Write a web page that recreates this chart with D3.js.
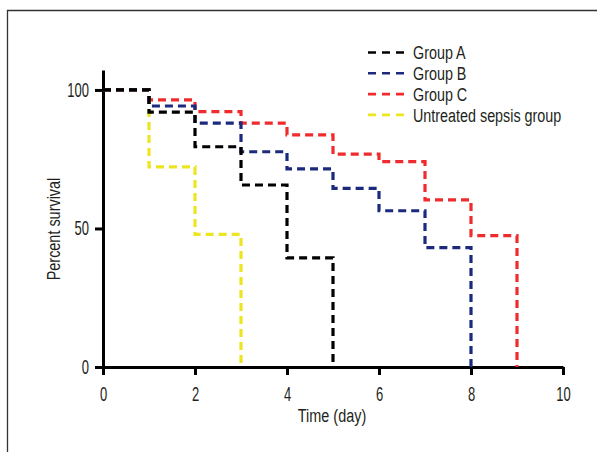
<!DOCTYPE html>
<html>
<head>
<meta charset="utf-8">
<script src="https://cdn.jsdelivr.net/npm/d3@7"></script>
<style>
  body { margin: 0; background: #fff; }
  svg text { font-family: "Liberation Sans", Arial, sans-serif; fill: #231f20; }
</style>
</head>
<body>
<svg id="chart" width="597" height="452"></svg>
<script>
// ===========
// DATA
// ===========
const xTicks = [0, 2, 4, 6, 8, 10];
const yTicks = [0, 50, 100];
const groupNames = ["Group A", "Group B", "Group C", "Untreated sepsis group"];
const groupColors = ["#000000", "#1c2a7e", "#ef2b2d", "#ede51f"];

// day at which each survival value starts
const daysA = [0, 1, 2, 3, 4, 5];
const survA = [100, 92, 79.5, 65.7, 39.4, 0];
const daysB = [0, 1, 2, 3, 4, 5, 6, 7, 8];
const survB = [100, 94.2, 88, 77.7, 71.5, 64.5, 56.4, 43.1, 0];
const daysC = [0, 1, 2, 3, 4, 5, 6, 7, 8, 9];
const survC = [100, 96.4, 92.2, 88, 83.8, 76.8, 74.1, 60.3, 47.4, 0];
const daysU = [0, 1, 2, 3];
const survU = [100, 72.2, 47.9, 0];

const svg = d3.select("#chart");

// narrow text horizontally (the original uses a condensed face)
function condense(sel, f) {
  sel.each(function() {
    const t = d3.select(this);
    const x0 = +t.attr("x") || 0;
    t.attr("x", x0 / f).attr("transform", "scale(" + f + ",1)");
  });
}

// frame around the figure
svg.append("path")
  .attr("d", "M7.5,452V10.5H597")
  .attr("fill", "none")
  .attr("stroke", "#333")
  .attr("stroke-width", 1.3);

// ============
// SCALES + AXES
// ============
const x = d3.scaleLinear().domain([0, 10]).range([103, 563]);
const y = d3.scaleLinear().domain([0, 107.2]).range([367, 70]);

const xAxis = svg.append("g")
  .attr("transform", "translate(0," + y(0) + ")")
  .call(d3.axisBottom(x).tickValues(xTicks).tickSize(8).tickSizeOuter(0).tickPadding(12));

const yAxis = svg.append("g")
  .attr("transform", "translate(" + x(0) + ",0)")
  .call(d3.axisLeft(y).tickValues(yTicks).tickSize(8).tickSizeOuter(0).tickPadding(6));

[xAxis, yAxis].forEach(function(g) {
  g.selectAll(".domain, line").attr("stroke", "#000").attr("stroke-width", 3);
  g.selectAll("text").attr("font-size", 20).attr("fill", "#231f20")
    .attr("font-family", "Liberation Sans, Arial, sans-serif")
    .call(condense, 0.65);
});

// axis titles
svg.append("g")
  .attr("transform", "translate(332,422)")
  .append("text")
  .attr("text-anchor", "middle")
  .attr("font-size", 19)
  .text("Time (day)")
  .call(condense, 0.76);

svg.append("g")
  .attr("transform", "translate(60,229)rotate(-90)")
  .append("text")
  .attr("text-anchor", "middle")
  .attr("font-size", 19)
  .text("Percent survival")
  .call(condense, 0.76);

// ============
// SURVIVAL CURVES
// ============
const series = [
  { days: daysU, surv: survU, color: groupColors[3] },
  { days: daysC, surv: survC, color: groupColors[2] },
  { days: daysB, surv: survB, color: groupColors[1] },
  { days: daysA, surv: survA, color: groupColors[0] }
];

const line = d3.line()
  .x(function(d) { return x(d[0]); })
  .y(function(d) { return y(d[1]); })
  .curve(d3.curveStepAfter);

series.forEach(function(s) {
  const pts = s.days.map(function(d, i) { return [d, s.surv[i]]; });
  svg.append("path")
    .datum(pts)
    .attr("d", line)
    .attr("fill", "none")
    .attr("stroke", s.color)
    .attr("stroke-width", 3.2)
    .attr("stroke-dasharray", "8,5");
});

// ============
// LEGEND
// ============
const legend = svg.append("g");
groupNames.forEach(function(name, i) {
  const ly = 52.5 + i * 20.8;
  legend.append("line")
    .attr("x1", 368).attr("x2", 404)
    .attr("y1", ly).attr("y2", ly)
    .attr("stroke", groupColors[i])
    .attr("stroke-width", 2.6)
    .attr("stroke-dasharray", "8,6");
  legend.append("g")
    .attr("transform", "translate(413," + ly + ")")
    .append("text")
    .attr("dy", "0.36em")
    .attr("font-size", 19)
    .text(name)
    .call(condense, 0.755);
});
</script>
</body>
</html>
